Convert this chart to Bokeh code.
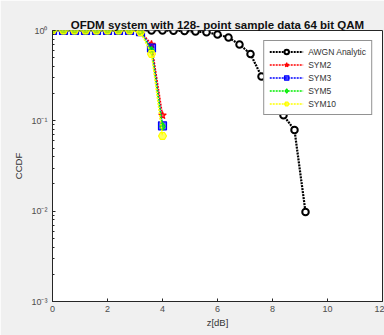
from bokeh.plotting import figure
from bokeh.models import CustomJSTickFormatter, FixedTicker, Range1d, Legend, LegendItem
from bokeh.embed import file_html
from bokeh.resources import INLINE

# ---- data ----
awgn_x = [0, 0.4, 0.8, 1.2, 1.6, 2.0, 2.4, 2.8, 3.2, 3.6, 4.0, 4.4, 4.8, 5.2,
          5.6, 6.0, 6.4, 6.8, 7.2, 7.6, 8.0, 8.4, 8.8, 9.2]
awgn_y = [1, 1, 1, 1, 1, 1, 1, 1, 1, 1, 1, 0.995, 0.985, 0.975,
          0.955, 0.905, 0.835, 0.70, 0.55, 0.31, 0.20, 0.115, 0.079, 0.0098]

sym_x = [0, 0.4, 0.8, 1.2, 1.6, 2.0, 2.4, 2.8, 3.2, 3.6, 4.0]
sym2_y = [1, 1, 1, 1, 1, 1, 1, 1, 0.98, 0.70, 0.115]
sym3_y = [1, 1, 1, 1, 1, 1, 1, 1, 0.97, 0.64, 0.088]
sym5_y = [1, 1, 1, 1, 1, 1, 1, 1, 0.97, 0.60, 0.087]
sym10_y = [1, 1, 1, 1, 1, 1, 1, 1, 0.96, 0.55, 0.068]

x_ticks = [0, 2, 4, 6, 8, 10, 12]
y_ticks = [0.001, 0.01, 0.1, 1]

p = figure(width=384, height=335, y_axis_type="log", output_backend="svg",
           toolbar_location=None,
           x_range=Range1d(0, 12), y_range=Range1d(0.001, 1),
           min_border_left=52, min_border_right=2, min_border_top=30,
           min_border_bottom=34)

p.border_fill_color = "#f0f0f0"
p.background_fill_color = "white"
p.outline_line_color = "#262626"
p.xgrid.visible = False
p.ygrid.visible = False

p.title.text = "OFDM system with 128- point sample data 64 bit QAM"
p.title.align = "center"
p.title.text_font = "Liberation Sans"
p.title.text_font_size = "11.5px"
p.title.text_font_style = "bold"
p.title.text_color = "#111111"
p.title.offset = -2
p.title.standoff = 0

for ax in (p.xaxis[0], p.yaxis[0]):
    ax.major_label_text_font = "Liberation Sans"
    ax.major_label_text_font_size = "9px"
    ax.major_label_text_color = "#4d4d4d"
    ax.axis_label_text_font = "Liberation Sans"
    ax.axis_label_text_font_size = "9.5px"
    ax.axis_label_text_font_style = "normal"
    ax.axis_label_text_color = "#333333"
    ax.axis_line_color = "#262626"
    ax.major_tick_line_color = "#262626"
    ax.minor_tick_line_color = "#262626"
    ax.major_tick_in = 3
    ax.major_tick_out = 0
    ax.minor_tick_in = 2
    ax.minor_tick_out = 0

p.xaxis.ticker = FixedTicker(ticks=x_ticks)
p.xaxis.axis_label = "z[dB]"
p.xaxis.major_label_standoff = 4
p.xaxis.axis_label_standoff = 2
p.yaxis.ticker = FixedTicker(ticks=y_ticks, minor_ticks=[
    m * 10 ** e for e in (-3, -2, -1) for m in range(2, 10)])
p.yaxis.axis_label = "CCDF"
p.yaxis.major_label_standoff = 5
p.yaxis.axis_label_standoff = 4
p.yaxis.formatter = CustomJSTickFormatter(code="""
const sup = {'-':'\u207b','0':'\u2070','1':'\u00b9','2':'\u00b2','3':'\u00b3'};
const e = Math.round(Math.log10(tick)).toString();
return '10' + e.split('').map(c => sup[c]).join('');
""")

items = []
r = p.line(awgn_x, awgn_y, line_color="black", line_width=2.2, line_dash="2 1")
m = p.scatter(awgn_x, awgn_y, marker="circle", size=6.5, line_color="black",
              line_width=2, fill_color="white")
items.append(LegendItem(label="AWGN Analytic", renderers=[r, m]))

series = [
    ("SYM2", sym2_y, "#ff0000", "star"),
    ("SYM3", sym3_y, "#0000ff", "square"),
    ("SYM5", sym5_y, "#00ee00", "diamond"),
    ("SYM10", sym10_y, "#ffff00", "hex"),
]
for name, ys, col, mk in series:
    r = p.line(sym_x, ys, line_color=col, line_width=1.6, line_dash="2 1")
    m = p.scatter(sym_x, ys, marker=mk, size=8, line_color=col, fill_color=col,
                  fill_alpha=0.6, line_width=1.2)
    items.append(LegendItem(label=name, renderers=[r, m]))

legend = Legend(items=items, location="top_right")
legend.label_text_font = "Liberation Sans"
legend.label_text_font_size = "8.5px"
legend.label_text_color = "#333333"
legend.label_height = 11
legend.glyph_height = 11
legend.glyph_width = 34
legend.spacing = 2
legend.padding = 5
legend.margin = 10
legend.border_line_color = "#262626"
legend.background_fill_color = "white"
legend.background_fill_alpha = 1
p.add_layout(legend)

open("out.html", "w").write(file_html(p, INLINE))
